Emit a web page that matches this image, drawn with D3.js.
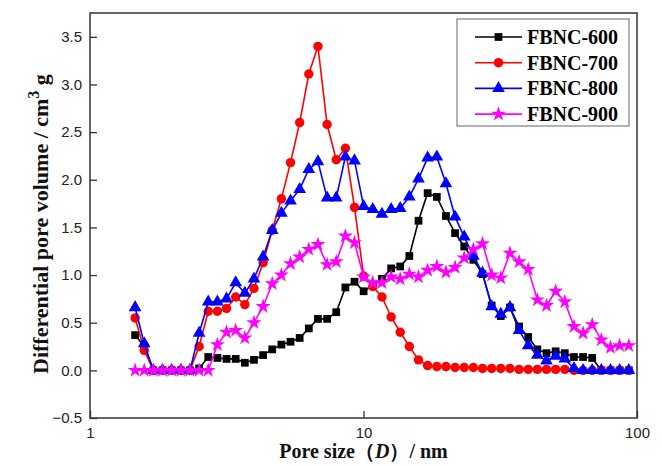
<!DOCTYPE html>
<html>
<head>
<meta charset="utf-8">
<script src="https://cdn.jsdelivr.net/npm/d3@7"></script>
<style>
  body { margin: 0; background: #fff; }
</style>
</head>
<body>
<script>
// pore size grid (nm), shared by all four samples
const poreSize = [1.462, 1.579, 1.705, 1.842, 1.989, 2.148, 2.320, 2.506, 2.706, 2.923,
  3.157, 3.409, 3.682, 3.977, 4.295, 4.638, 5.009, 5.410, 5.843, 6.310,
  6.815, 7.360, 7.949, 8.585, 9.272, 10.01, 10.81, 11.68, 12.62, 13.62,
  14.71, 15.89, 17.16, 18.54, 20.02, 21.62, 23.35, 25.22, 27.24, 29.42,
  31.77, 34.31, 37.06, 40.02, 43.22, 46.68, 50.42, 54.45, 58.81, 63.51,
  68.59, 74.08, 80.01, 86.41, 93.32];

const fbnc600 = [0.37, 0.25, 0, 0, 0, 0, 0, 0.02, 0.14, 0.13,
  0.12, 0.12, 0.08, 0.11, 0.16, 0.22, 0.27, 0.30, 0.34, 0.44,
  0.54, 0.54, 0.61, 0.87, 0.93, 0.83, 0.89, 0.96, 1.07, 1.09,
  1.20, 1.57, 1.86, 1.82, 1.62, 1.44, 1.30, 1.16, 1.01, 0.68,
  0.57, 0.66, 0.46, 0.35, 0.22, 0.18, 0.20, 0.18, 0.14, 0.14,
  0.13, 0, 0, 0, 0];

const fbnc700 = [0.55, 0.21, 0, 0, 0, 0, 0, 0.25, 0.62, 0.62,
  0.65, 0.77, 0.69, 0.86, 1.13, 1.47, 1.80, 2.18, 2.60, 3.11,
  3.40, 2.58, 2.21, 2.33, 1.71, 0.99, 0.88, 0.77, 0.56, 0.40,
  0.25, 0.11, 0.05, 0.04, 0.04, 0.03, 0.03, 0.03, 0.02, 0.02,
  0.02, 0.02, 0.01, 0.01, 0.01, 0.01, 0.01, 0.01, 0, 0,
  0, 0, 0, 0, 0];

const fbnc800 = [0.66, 0.28, 0, 0, 0, 0, 0, 0.39, 0.72, 0.72,
  0.75, 0.92, 0.81, 0.96, 1.19, 1.47, 1.65, 1.78, 1.90, 2.11,
  2.19, 1.81, 1.81, 2.24, 2.20, 1.72, 1.69, 1.64, 1.69, 1.70,
  1.82, 2.01, 2.23, 2.24, 1.96, 1.61, 1.40, 1.20, 1.02, 0.67,
  0.59, 0.66, 0.42, 0.26, 0.16, 0.10, 0.15, 0.12, 0.02, 0,
  0, 0, 0, 0, 0];

const fbnc900 = [0, 0, 0, 0, 0, 0, 0, 0, 0, 0.27,
  0.40, 0.42, 0.34, 0.50, 0.67, 0.91, 1.00, 1.12, 1.19, 1.27,
  1.32, 1.11, 1.14, 1.41, 1.34, 0.98, 0.92, 0.92, 0.98, 0.96,
  1.01, 0.98, 1.05, 1.09, 1.03, 1.08, 1.18, 1.27, 1.33, 1.00,
  0.97, 1.23, 1.14, 1.06, 0.74, 0.68, 0.83, 0.72, 0.46, 0.39,
  0.48, 0.32, 0.24, 0.26, 0.26];

const seriesNames = ["FBNC-600", "FBNC-700", "FBNC-800", "FBNC-900"];
const seriesValues = [fbnc600, fbnc700, fbnc800, fbnc900];
const seriesColors = ["#000000", "#ff0000", "#0000ff", "#ff00ff"];
const seriesSymbols = [d3.symbolSquare, d3.symbolCircle, d3.symbolTriangle, d3.symbolStar];
const symbolSizes = [60, 70, 70, 70];

const xTicks = [1, 10, 100];
const yTicks = [-0.5, 0, 0.5, 1, 1.5, 2, 2.5, 3, 3.5];

const width = 662;
const height = 466;
const margin = { top: 13, right: 25, bottom: 48, left: 90 };
const innerW = width - margin.left - margin.right;
const innerH = height - margin.top - margin.bottom;

const svg = d3.select("body")
  .append("svg")
  .attr("width", width)
  .attr("height", height);

const g = svg.append("g")
  .attr("transform", `translate(${margin.left},${margin.top})`);

const x = d3.scaleLog().domain([1, 100]).range([0, innerW]);
const y = d3.scaleLinear().domain([-0.5, 3.75]).range([innerH, 0]);

// axes, ticks pointing inwards
const xAxis = g.append("g")
  .attr("transform", `translate(0,${innerH})`)
  .call(d3.axisBottom(x).tickValues(xTicks).tickFormat(d3.format("d"))
    .tickSizeInner(-7).tickSizeOuter(0).tickPadding(9));

const yAxis = g.append("g")
  .call(d3.axisLeft(y).tickValues(yTicks).tickFormat(d3.format(".1f"))
    .tickSizeInner(-7).tickSizeOuter(0).tickPadding(8));

[xAxis, yAxis].forEach(a => {
  a.selectAll("text")
    .attr("font-family", "Liberation Sans, Arial, sans-serif")
    .attr("font-size", "15px")
    .attr("fill", "#222");
  a.selectAll("line").attr("stroke", "#333").attr("stroke-width", 1.3);
  a.select(".domain").remove();
});

// frame
g.append("rect")
  .attr("width", innerW)
  .attr("height", innerH)
  .attr("fill", "none")
  .attr("stroke", "#333")
  .attr("stroke-width", 1.5);

const line = d3.line()
  .x((d, i) => x(poreSize[i]))
  .y(d => y(d));

seriesValues.forEach((vals, k) => {
  const s = g.append("g");
  s.append("path")
    .datum(vals)
    .attr("d", line)
    .attr("fill", "none")
    .attr("stroke", seriesColors[k])
    .attr("stroke-width", 1.6);
  s.selectAll("path.pt")
    .data(vals)
    .enter()
    .append("path")
    .attr("class", "pt")
    .attr("transform", (d, i) => `translate(${x(poreSize[i])},${y(d)})`)
    .attr("d", d3.symbol().type(seriesSymbols[k]).size(symbolSizes[k]))
    .attr("fill", seriesColors[k]);
});

// legend
const legend = svg.append("g").attr("transform", "translate(457,19)");
legend.append("rect")
  .attr("width", 172)
  .attr("height", 107)
  .attr("fill", "#fff")
  .attr("stroke", "#666")
  .attr("stroke-width", 1);

seriesNames.forEach((name, k) => {
  const row = legend.append("g").attr("transform", `translate(0,${18 + k * 25.7})`);
  row.append("line")
    .attr("x1", 18).attr("x2", 65)
    .attr("stroke", seriesColors[k])
    .attr("stroke-width", 1.6);
  row.append("path")
    .attr("transform", "translate(41.5,0)")
    .attr("d", d3.symbol().type(seriesSymbols[k]).size(symbolSizes[k]))
    .attr("fill", seriesColors[k]);
  row.append("text")
    .attr("x", 70)
    .attr("y", 7)
    .attr("font-family", "Liberation Serif, Times New Roman, serif")
    .attr("font-weight", "bold")
    .attr("font-size", "20px")
    .text(name);
});

// axis titles
const yTitle = svg.append("text")
  .attr("transform", `translate(48,374) rotate(-90)`)
  .attr("font-family", "Liberation Serif, Times New Roman, serif")
  .attr("font-weight", "bold")
  .attr("font-size", "22px")
  .attr("fill", "#111");
yTitle.append("tspan").text("Differential pore volume / cm");
yTitle.append("tspan").attr("dy", -9).attr("font-size", "16px").text("3");
yTitle.append("tspan").attr("dy", 9).text(" g");

const xTitle = svg.append("text")
  .attr("x", margin.left + x(10))
  .attr("y", 458)
  .attr("text-anchor", "middle")
  .attr("font-family", "Liberation Serif, Times New Roman, serif")
  .attr("font-weight", "bold")
  .attr("font-size", "20px")
  .attr("fill", "#111");
xTitle.append("tspan").text("Pore size（");
xTitle.append("tspan").attr("font-style", "italic").text("D");
xTitle.append("tspan").text("）/ nm");
</script>
</body>
</html>
